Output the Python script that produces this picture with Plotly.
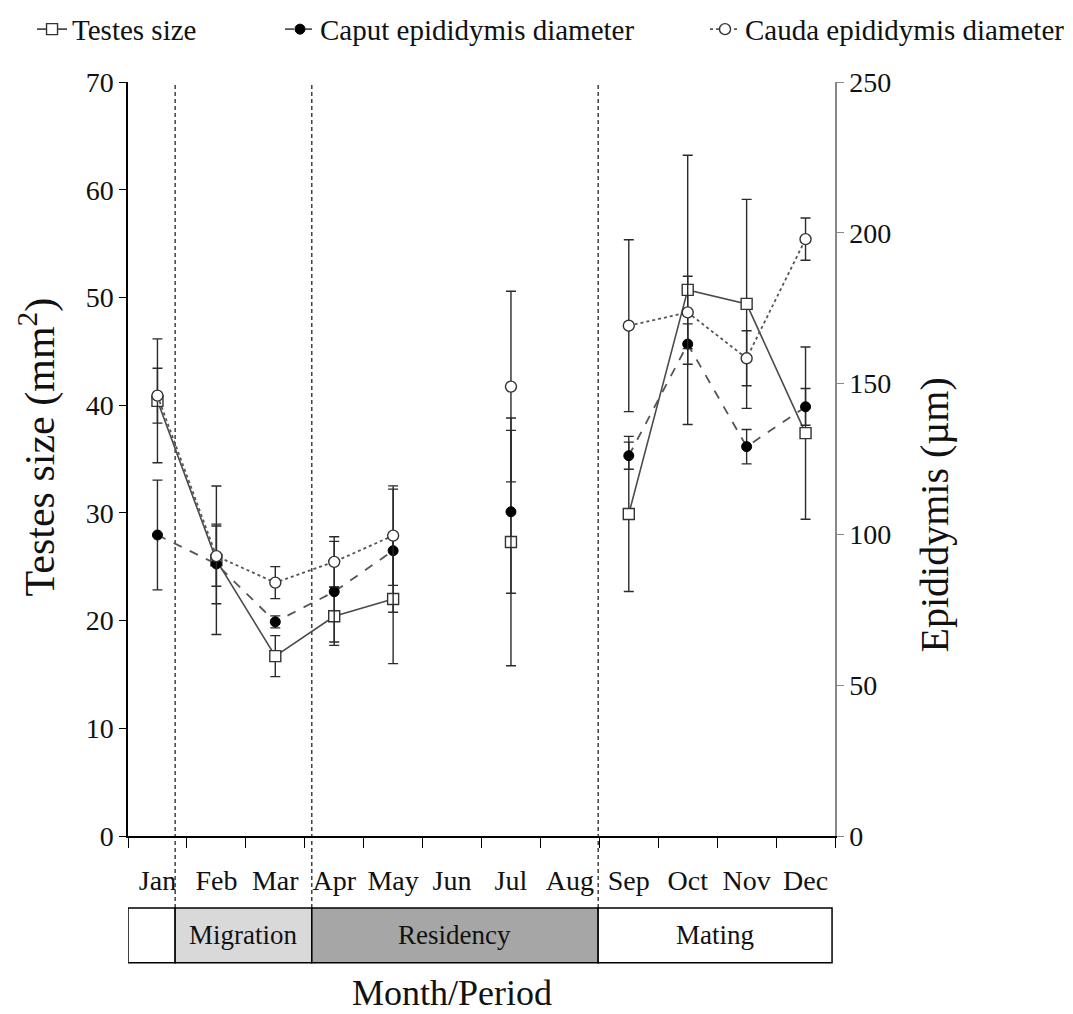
import plotly.graph_objects as go

# ---------------- data ----------------
months = ["Jan", "Feb", "Mar", "Apr", "May", "Jun", "Jul", "Aug", "Sep", "Oct", "Nov", "Dec"]

testes_size = [40.4, 25.6, 16.7, 20.4, 22.0, None, 27.3, None, 29.9, 50.7, 49.4, 37.4]
testes_err = [5.75, 6.9, 1.9, 2.7, 6.0, 0, 11.5, 0, 7.2, 12.5, 9.7, 8.0]

caput_diam = [99.8, 90.2, 71.0, 81.0, 94.6, None, 107.5, None, 126.1, 163.1, 129.1, 142.3]
caput_err = [18.2, 13.2, 2.0, 16.7, 20.4, 0, 27.0, 0, 4.5, 6.7, 5.7, 6.1]

cauda_diam = [146.0, 92.8, 84.0, 90.9, 99.6, None, 149.0, None, 169.2, 173.6, 158.4, 197.9]
cauda_err = [9.1, 10.0, 5.3, 8.3, 16.5, 0, 31.6, 0, 28.5, 12.0, 9.1, 7.0]

period_names = ["", "Migration", "Residency", "Mating"]
period_bounds = [-0.5, 0.3, 2.62, 7.48, 11.45]   # in month-index units
period_fills = ["#ffffff", "#d9d9d9", "#a6a6a6", "#ffffff"]

left_ticks = [0, 10, 20, 30, 40, 50, 60, 70]
right_ticks = [0, 50, 100, 150, 200, 250]

# ---------------- figure ----------------
FONT = "Liberation Serif"
x = list(range(len(months)))

fig = go.Figure()

err_style = dict(type="data", visible=True, color="#2a2a2a", thickness=1.4, width=5)

fig.add_trace(go.Scatter(
    x=x, y=testes_size, name="Testes size", mode="lines+markers",
    line=dict(color="#4a4a4a", width=1.6),
    marker=dict(symbol="square", size=11, color="white", line=dict(color="#333", width=1.4)),
    error_y=dict(array=testes_err, **err_style),
    yaxis="y", legend="legend", connectgaps=False,
))
fig.add_trace(go.Scatter(
    x=x, y=caput_diam, name="Caput epididymis diameter", mode="lines+markers",
    line=dict(color="#555555", width=1.8, dash="dash"),
    marker=dict(symbol="circle", size=10, color="black", line=dict(color="black", width=1)),
    error_y=dict(array=caput_err, **err_style),
    yaxis="y2", legend="legend2", connectgaps=False,
))
fig.add_trace(go.Scatter(
    x=x, y=cauda_diam, name="Cauda epididymis diameter", mode="lines+markers",
    line=dict(color="#555555", width=1.8, dash="dot"),
    marker=dict(symbol="circle", size=11, color="white", line=dict(color="#333", width=1.4)),
    error_y=dict(array=cauda_err, **err_style),
    yaxis="y2", legend="legend3", connectgaps=False,
))

shapes = []
# period dividers (dashed)
for b in period_bounds[1:-1]:
    shapes.append(dict(type="line", xref="x", yref="paper", x0=b, x1=b, y0=-0.0955, y1=1.0,
                       line=dict(color="#111", width=1.2, dash="4px,3px"), layer="below"))
# period bar
annotations = []
for i, name in enumerate(period_names):
    x0, x1 = period_bounds[i], period_bounds[i + 1]
    shapes.append(dict(type="rect", xref="x", yref="paper", x0=x0, x1=x1, y0=-0.168, y1=-0.0955,
                       fillcolor=period_fills[i], line=dict(color="black", width=1.5)))
    if name:
        annotations.append(dict(x=(x0 + x1) / 2, y=-0.131, xref="x", yref="paper", text=name,
                                showarrow=False, font=dict(family=FONT, size=27, color="#111"),
                                xanchor="center", yanchor="middle"))

annotations.append(dict(x=5.0, y=-0.208, xref="x", yref="paper", text="Month/Period",
                        showarrow=False, font=dict(family=FONT, size=36, color="#111"),
                        xanchor="center", yanchor="middle"))
annotations.append(dict(x=-0.128, y=0.516, xref="paper", yref="paper", text="Testes size (mm<sup>2</sup>)",
                        showarrow=False, textangle=-90, font=dict(family=FONT, size=42, color="#111"),
                        xanchor="center", yanchor="middle"))
annotations.append(dict(x=1.141, y=0.426, xref="paper", yref="paper", text="Epididymis (µm)",
                        showarrow=False, textangle=-90, font=dict(family=FONT, size=40, color="#111"),
                        xanchor="center", yanchor="middle"))

legend_common = dict(orientation="h", yanchor="middle", y=0.979, xanchor="left",
                     xref="container", yref="container",
                     bgcolor="rgba(0,0,0,0)", font=dict(family=FONT, size=29, color="#111"))

fig.update_layout(
    width=1073, height=1014,
    margin=dict(l=120, r=246, t=74, b=186, autoexpand=False),
    paper_bgcolor="white", plot_bgcolor="white",
    font=dict(family=FONT, color="#111"),
    showlegend=True,
    legend=dict(x=0.0224, **legend_common),
    legend2=dict(x=0.2535, **legend_common),
    legend3=dict(x=0.6496, **legend_common),
    xaxis=dict(
        range=[-0.5, 11.5], tickmode="array", tickvals=x, ticktext=months,
        ticks="", showgrid=False, zeroline=False,
        showline=True, linecolor="black", linewidth=1.5,
        tickfont=dict(family=FONT, size=28, color="#111"),
        ticklabelstandoff=19,
        minor=dict(tickmode="linear", tick0=-0.5, dtick=1, ticks="outside", ticklen=10,
                   tickcolor="black", tickwidth=1.2, showgrid=False),
    ),
    yaxis=dict(
        range=[0, 70], tickmode="array", tickvals=left_ticks,
        ticks="outside", ticklen=7, tickcolor="black", tickwidth=1.2,
        showgrid=False, zeroline=False, showline=True, linecolor="black", linewidth=1.5,
        tickfont=dict(family=FONT, size=28, color="#111"),
    ),
    yaxis2=dict(
        range=[0, 250], tickmode="array", tickvals=right_ticks, overlaying="y", side="right",
        ticks="outside", ticklen=7, tickcolor="#888", tickwidth=1.2,
        showgrid=False, zeroline=False, showline=True, linecolor="#888", linewidth=1.5,
        tickfont=dict(family=FONT, size=28, color="#111"),
    ),
    shapes=shapes,
    annotations=annotations,
)

fig.write_html("out.html")
